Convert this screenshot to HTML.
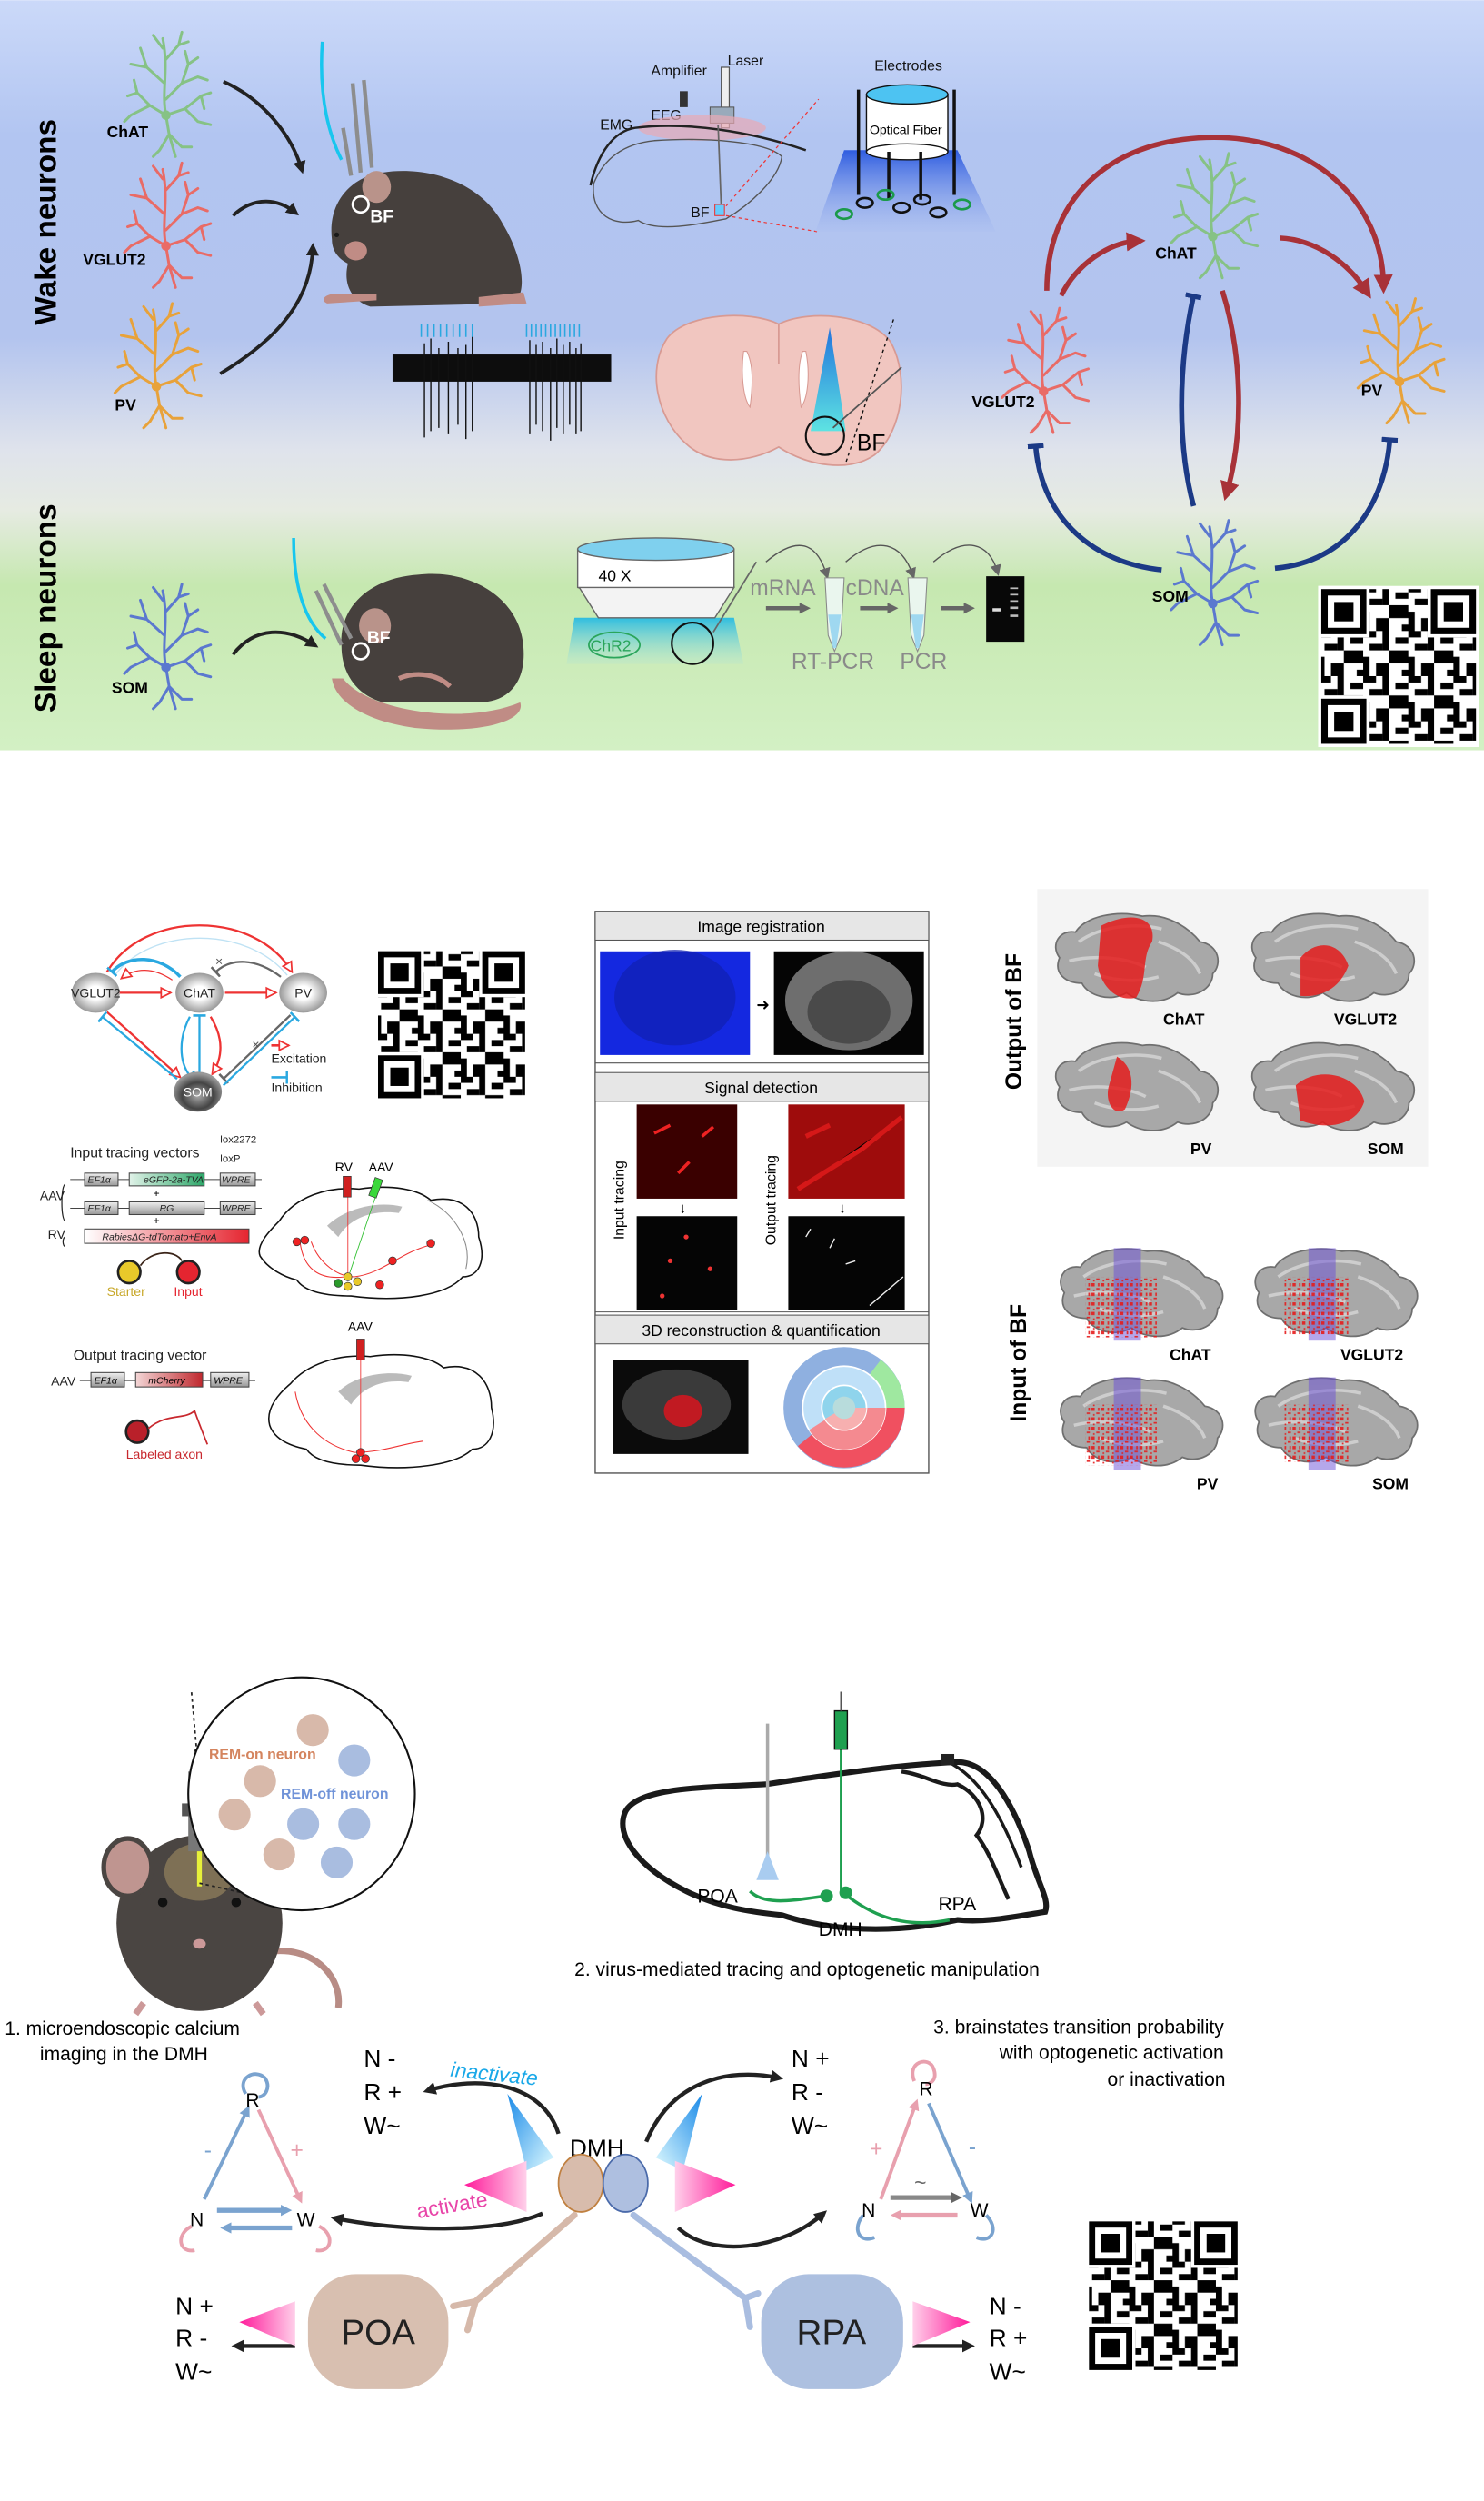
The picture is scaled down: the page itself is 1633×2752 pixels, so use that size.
<!DOCTYPE html>
<html><head><meta charset="utf-8">
<style>
html,body{margin:0;padding:0;background:#fff;}
svg{display:block;}
text{font-family:"Liberation Sans",Arial,sans-serif;}
</style></head>
<body>
<svg width="1633" height="2752" viewBox="0 0 930 1567" xmlns="http://www.w3.org/2000/svg">
<defs>
<linearGradient id="bg1" x1="0" y1="0" x2="0" y2="1">
<stop offset="0" stop-color="#cbd9f9"/><stop offset="0.18" stop-color="#b2c5f1"/>
<stop offset="0.45" stop-color="#b3c4ee"/><stop offset="0.6" stop-color="#dfe3ec"/>
<stop offset="0.68" stop-color="#e6ebe2"/><stop offset="0.78" stop-color="#c6e8b0"/>
<stop offset="1" stop-color="#d3f0c4"/></linearGradient>
<symbol id="nr" overflow="visible">
<g fill="none" stroke="currentColor" stroke-width="1.7" stroke-linecap="round" stroke-linejoin="round">
<path d="M0,0 C-3,-15 2,-28 -2,-48 M-1,-20 L-12,-30 L-16,-42 M-12,-30 L-22,-32 M0,-35 L8,-44 L10,-52 M8,-44 L14,-46 M-2,-42 L-8,-50 M0,-10 L10,-20 L14,-32 M10,-20 L20,-24 L26,-22 M14,-32 L12,-40 M14,-32 L20,-36 M0,0 L12,-4 L22,-12 L28,-14 M22,-12 L24,-4 M12,-4 L20,4 L28,6 M0,0 L-10,-6 L-18,-14 L-24,-12 M-18,-14 L-20,-22 M-10,-6 L-22,0 L-26,4 M0,0 L2,12 L-4,22 M2,12 L10,20 L16,20 M2,12 L6,26 M-4,22 L-8,26"/>
</g><circle r="3" fill="currentColor"/></symbol>
<pattern id="qp" width="7" height="7" patternUnits="userSpaceOnUse">
<rect width="7" height="7" fill="#fff"/><rect x="0" y="0" width="2" height="1"/><rect x="3" y="0" width="1" height="3"/><rect x="1" y="2" width="2" height="1"/><rect x="4" y="3" width="3" height="2"/><rect x="0" y="4" width="1" height="3"/><rect x="2" y="5" width="2" height="2"/><rect x="5" y="1" width="2" height="1"/><rect x="6" y="6" width="1" height="1"/>
</pattern>
<pattern id="spk" width="6" height="6" patternUnits="userSpaceOnUse">
<rect x="0" y="0" width="2" height="2" fill="#e41c1c"/><rect x="3" y="3" width="2" height="1" fill="#e41c1c"/><rect x="4" y="0" width="1" height="2" fill="#e41c1c"/><rect x="1" y="4" width="1" height="1" fill="#e41c1c"/>
</pattern>
<symbol id="qr" viewBox="0 0 25 25">
<rect width="25" height="25" fill="#fff"/><rect x="0.5" y="0.5" width="24" height="24" fill="url(#qp)"/>
<g><rect x="0" y="0" width="8" height="8" fill="#fff"/><rect x="0.5" y="0.5" width="7" height="7"/><rect x="1.5" y="1.5" width="5" height="5" fill="#fff"/><rect x="2.5" y="2.5" width="3" height="3"/></g>
<g transform="translate(17,0)"><rect width="8" height="8" fill="#fff"/><rect x="0.5" y="0.5" width="7" height="7"/><rect x="1.5" y="1.5" width="5" height="5" fill="#fff"/><rect x="2.5" y="2.5" width="3" height="3"/></g>
<g transform="translate(0,17)"><rect width="8" height="8" fill="#fff"/><rect x="0.5" y="0.5" width="7" height="7"/><rect x="1.5" y="1.5" width="5" height="5" fill="#fff"/><rect x="2.5" y="2.5" width="3" height="3"/></g>
</symbol>
<marker id="ak" markerWidth="8" markerHeight="8" refX="5" refY="4" orient="auto" markerUnits="userSpaceOnUse"><path d="M0,0 L8,4 L0,8 Z" fill="#222"/></marker>
<marker id="ar" markerWidth="12" markerHeight="12" refX="6" refY="6" orient="auto" markerUnits="userSpaceOnUse"><path d="M0,0 L12,6 L0,12 Z" fill="#a83238"/></marker>
<marker id="ag" markerWidth="7" markerHeight="7" refX="4" refY="3.5" orient="auto" markerUnits="userSpaceOnUse"><path d="M0,0 L7,3.5 L0,7 Z" fill="#666"/></marker>
<marker id="aro" markerWidth="8" markerHeight="8" refX="7" refY="4" orient="auto" markerUnits="userSpaceOnUse"><path d="M1,1 L7,4 L1,7 Z" fill="#fff" stroke="#e33" stroke-width="1"/></marker>
<marker id="tb" markerWidth="4" markerHeight="10" refX="2" refY="5" orient="auto" markerUnits="userSpaceOnUse"><rect x="0" y="0" width="3" height="10" fill="#1c3a86"/></marker>
<marker id="tl" markerWidth="3" markerHeight="8" refX="1" refY="4" orient="auto" markerUnits="userSpaceOnUse"><rect x="0" y="0" width="1.5" height="8" fill="#2aa8e0"/></marker>
<marker id="tg" markerWidth="3" markerHeight="8" refX="1" refY="4" orient="auto" markerUnits="userSpaceOnUse"><rect x="0" y="0" width="1.5" height="8" fill="#666"/></marker>
<marker id="ab" markerWidth="7" markerHeight="7" refX="4" refY="3.5" orient="auto" markerUnits="userSpaceOnUse"><path d="M0,0 L7,3.5 L0,7 Z" fill="#7aa3cf"/></marker>
<marker id="ap" markerWidth="7" markerHeight="7" refX="4" refY="3.5" orient="auto" markerUnits="userSpaceOnUse"><path d="M0,0 L7,3.5 L0,7 Z" fill="#e8a0ae"/></marker>
<radialGradient id="sph" cx="0.5" cy="0.5" r="0.55"><stop offset="0.3" stop-color="#fff"/><stop offset="1" stop-color="#8a8a8a"/></radialGradient>
<radialGradient id="sphd" cx="0.5" cy="0.6" r="0.55"><stop offset="0" stop-color="#aaa"/><stop offset="0.6" stop-color="#444"/><stop offset="1" stop-color="#999"/></radialGradient>
<linearGradient id="cone" x1="0" y1="0" x2="0" y2="1"><stop offset="0" stop-color="#2f5de0"/><stop offset="1" stop-color="#a9bdf0" stop-opacity="0.3"/></linearGradient>
<linearGradient id="cyc" x1="0" y1="0" x2="0" y2="1"><stop offset="0" stop-color="#0b6be0"/><stop offset="1" stop-color="#4de6e6"/></linearGradient>
<linearGradient id="mic" x1="0" y1="0" x2="0" y2="1"><stop offset="0" stop-color="#2fbde0"/><stop offset="1" stop-color="#b7e6d0" stop-opacity="0.3"/></linearGradient>
<linearGradient id="mgl" x1="0" y1="0" x2="1" y2="0"><stop offset="0" stop-color="#ff1a9a"/><stop offset="1" stop-color="#ffd0ea"/></linearGradient>
<linearGradient id="mgr" x1="1" y1="0" x2="0" y2="0"><stop offset="0" stop-color="#ff1a9a"/><stop offset="1" stop-color="#ffd0ea"/></linearGradient>
<linearGradient id="cy1" x1="0" y1="0" x2="1" y2="1"><stop offset="0" stop-color="#1a8ae8"/><stop offset="1" stop-color="#e0fbff"/></linearGradient>
<linearGradient id="cy2" x1="1" y1="0" x2="0" y2="1"><stop offset="0" stop-color="#1a8ae8"/><stop offset="1" stop-color="#e0fbff"/></linearGradient>
<linearGradient id="rv" x1="0" y1="0" x2="1" y2="0"><stop offset="0" stop-color="#fff"/><stop offset="1" stop-color="#e52530"/></linearGradient>
<linearGradient id="gf" x1="0" y1="0" x2="1" y2="0"><stop offset="0" stop-color="#e0f2e8"/><stop offset="1" stop-color="#2ea86a"/></linearGradient>
<linearGradient id="gr" x1="0" y1="0" x2="0" y2="1"><stop offset="0" stop-color="#eee"/><stop offset="1" stop-color="#999"/></linearGradient>
<linearGradient id="mc" x1="0" y1="0" x2="1" y2="0"><stop offset="0" stop-color="#f3d6d6"/><stop offset="1" stop-color="#c0282e"/></linearGradient>
<symbol id="brain3d" viewBox="0 0 110 62" overflow="visible">
<path d="M8,30 C2,22 8,12 18,14 C24,4 44,0 60,4 C74,2 88,10 96,20 C108,22 110,34 104,40 C104,50 92,56 82,52 C72,60 58,58 50,52 C40,58 26,54 22,46 C12,46 4,40 8,30 Z" fill="#a8a8a8" stroke="#6f6f6f" stroke-width="1"/>
<path d="M20,20 C34,10 56,8 72,12 M14,32 C30,28 50,30 62,36 M70,20 C82,24 92,30 96,40 M30,40 C40,44 56,46 70,42" stroke="#d6d6d6" fill="none" stroke-width="2" opacity="0.8"/>
</symbol>
</defs>

<!-- ================= PANEL 1 ================= -->
<rect x="0" y="0" width="930" height="470" fill="url(#bg1)"/>
<text transform="translate(35,139) rotate(-90)" text-anchor="middle" font-size="19" font-weight="bold">Wake neurons</text>
<text transform="translate(35,381) rotate(-90)" text-anchor="middle" font-size="19" font-weight="bold">Sleep neurons</text>

<use href="#nr" x="104" y="72" color="#86c285"/>
<use href="#nr" x="104" y="154" color="#e96b66"/>
<use href="#nr" x="98" y="242" color="#e8a23a"/>
<use href="#nr" x="104" y="418" color="#5b78cf"/>
<g font-size="10" font-weight="bold">
<text x="67" y="86">ChAT</text><text x="52" y="166">VGLUT2</text><text x="72" y="257">PV</text><text x="70" y="434">SOM</text></g>
<g fill="none" stroke="#222" stroke-width="2.2">
<path d="M140,51 C165,62 183,85 189,106" marker-end="url(#ak)"/>
<path d="M146,135 C160,122 175,125 185,133" marker-end="url(#ak)"/>
<path d="M138,234 C178,210 195,185 196,155" marker-end="url(#ak)"/>
<path d="M146,410 C160,392 180,393 197,404" marker-end="url(#ak)"/>
</g>

<!-- wake mouse -->
<g>
<path d="M208,150 C205,125 222,110 240,108 C265,104 300,112 315,140 C330,165 330,188 320,190 L232,192 C220,188 215,178 218,165 C212,162 208,157 208,150 Z" fill="#46403d"/>
<path d="M236,188 L205,190 C200,188 204,184 210,184 L236,184 Z" fill="#c08c85"/>
<path d="M300,186 L328,183 L330,190 L300,192 Z" fill="#c08c85"/>
<ellipse cx="236" cy="117" rx="9" ry="10" fill="#b9938a"/>
<ellipse cx="223" cy="157" rx="7" ry="6" fill="#c08c85"/>
<circle cx="211" cy="147" r="1.5" fill="#1a1a1a"/>
<path d="M202,26 C200,55 204,80 214,100" stroke="#18c6ee" stroke-width="2" fill="none"/>
<path d="M221,52 L226,108 M228,50 L233,105 M215,80 L220,110" stroke="#8d8d8d" stroke-width="2.5" fill="none"/>
<circle cx="226" cy="128" r="5" fill="none" stroke="#fff" stroke-width="1.5"/>
<text x="232" y="139" font-size="11" fill="#fff" font-weight="bold">BF</text>
</g>

<!-- EEG setup -->
<g font-size="9" fill="#111">
<text x="408" y="47">Amplifier</text><text x="456" y="41">Laser</text><text x="408" y="75">EEG</text><text x="376" y="81">EMG</text><text x="433" y="136">BF</text><text x="548" y="44">Electrodes</text>
</g>
<rect x="452" y="42" width="5" height="38" fill="#eee" stroke="#555" stroke-width="0.7"/>
<rect x="426" y="57" width="5" height="10" fill="#333"/>
<rect x="445" y="67" width="15" height="10" fill="#9ab" stroke="#555" stroke-width="0.6"/>
<ellipse cx="440" cy="80" rx="40" ry="8" fill="#e8a9b5" opacity="0.7"/>
<path d="M370,116 C375,95 385,82 398,80 C430,76 470,82 505,94" stroke="#222" stroke-width="1.4" fill="none"/>
<path d="M372,115 C370,135 385,142 400,138 C412,146 440,140 455,137 C470,128 488,112 490,98 C480,88 440,86 410,88 C390,90 378,100 372,115 Z" fill="none" stroke="#555" stroke-width="0.8"/>
<line x1="450" y1="78" x2="452" y2="130" stroke="#666" stroke-width="1"/>
<rect x="448" y="128" width="6" height="7" fill="#6cf" stroke="#e33" stroke-width="0.6"/>
<path d="M455,129 L513,62 M455,135 L512,145" stroke="#e33" stroke-width="0.7" stroke-dasharray="2,2"/>
<path d="M529,94 L600,94 L624,145 L511,145 Z" fill="url(#cone)"/>
<rect x="543" y="59" width="51" height="36" fill="#fff" stroke="#111" stroke-width="0.8"/>
<ellipse cx="568.5" cy="59" rx="25.5" ry="6" fill="#4dc3f2" stroke="#111" stroke-width="0.8"/>
<ellipse cx="568.5" cy="95" rx="25.5" ry="5" fill="#fff" stroke="#111" stroke-width="0.8"/>
<text x="545" y="84" font-size="8">Optical Fiber</text>
<path d="M538,56 L538,122 M557,95 L557,125 M577,95 L577,125 M598,56 L598,122" stroke="#111" stroke-width="2"/>
<g fill="none" stroke-width="1.5">
<ellipse cx="542" cy="127" rx="5" ry="3" stroke="#111"/><ellipse cx="555" cy="122" rx="5" ry="3" stroke="#1b9a4a"/><ellipse cx="565" cy="130" rx="5" ry="3" stroke="#111"/><ellipse cx="578" cy="125" rx="5" ry="3" stroke="#111"/><ellipse cx="588" cy="133" rx="5" ry="3" stroke="#111"/><ellipse cx="603" cy="128" rx="5" ry="3" stroke="#1b9a4a"/><ellipse cx="529" cy="134" rx="5" ry="3" stroke="#1b9a4a"/>
</g>

<!-- spikes -->
<rect x="246" y="222" width="137" height="17" fill="#0d0d0d"/>
<g stroke="#111" stroke-width="0.8">
<path d="M266,215 V274 M270,212 V270 M275,218 V268 M281,214 V272 M287,218 V266 M292,216 V275 M296,210 V270 M332,213 V272 M336,216 V266 M340,214 V270 M345,218 V276 M349,212 V268 M353,216 V272 M357,214 V266 M361,218 V272 M364,215 V270"/>
</g>
<g stroke="#2aa8e0" stroke-width="0.9">
<path d="M264,203 V211 M268,203 V211 M272,203 V211 M276,203 V211 M280,203 V211 M284,203 V211 M288,203 V211 M292,203 V211 M296,203 V211 M330,203 V211 M333,203 V211 M336,203 V211 M339,203 V211 M342,203 V211 M345,203 V211 M348,203 V211 M351,203 V211 M354,203 V211 M357,203 V211 M360,203 V211 M363,203 V211"/>
</g>

<!-- brain slice -->
<path d="M488,203 C470,194 430,196 418,212 C405,232 412,262 430,278 C445,292 470,290 488,280 C506,292 532,296 548,285 C566,270 570,235 558,214 C545,196 505,194 488,203 Z" fill="#f1c6c0" stroke="#d89a93" stroke-width="1"/>
<path d="M488,203 L488,228" stroke="#d89a93" stroke-width="1"/>
<path d="M466,220 C464,235 466,250 470,255 C472,240 472,228 468,220 Z M505,220 C508,235 506,250 502,255 C500,240 500,228 503,220 Z" fill="#fff" stroke="#d89a93" stroke-width="0.6"/>
<path d="M520,205 L530,270 L508,270 Z" fill="url(#cyc)" opacity="0.9"/>
<circle cx="517" cy="273" r="12" fill="none" stroke="#111" stroke-width="1.2"/>
<path d="M560,200 L530,290" stroke="#111" stroke-width="0.8" stroke-dasharray="2,2"/>
<path d="M565,230 L522,268" stroke="#555" stroke-width="1"/>
<text x="537" y="282" font-size="14">BF</text>

<!-- right circuit -->
<use href="#nr" x="760" y="148" color="#86c285"/>
<use href="#nr" x="654" y="245" color="#e96b66"/>
<use href="#nr" x="877" y="239" color="#e8a23a"/>
<use href="#nr" x="760" y="378" color="#5b78cf"/>
<g font-size="10" font-weight="bold">
<text x="724" y="162">ChAT</text><text x="609" y="255">VGLUT2</text><text x="853" y="248">PV</text><text x="722" y="377">SOM</text></g>
<g fill="none" stroke="#a83238" stroke-width="3.2">
<path d="M656,182 C656,120 700,86 761,86 C822,86 866,125 867,178" marker-end="url(#ar)"/>
<path d="M665,185 C675,165 695,152 712,151" marker-end="url(#ar)"/>
<path d="M802,149 C825,150 845,165 856,182" marker-end="url(#ar)"/>
<path d="M766,182 C778,220 780,270 769,308" marker-end="url(#ar)"/>
</g>
<g fill="none" stroke="#1c3a86" stroke-width="3.2">
<path d="M748,317 C738,280 738,230 748,185" marker-end="url(#tb)"/>
<path d="M728,357 C680,352 652,320 649,279" marker-end="url(#tb)"/>
<path d="M799,356 C845,352 868,315 871,275" marker-end="url(#tb)"/>
</g>

<!-- sleep mouse -->
<g>
<path d="M214,405 C212,380 232,362 262,360 C295,356 326,375 328,405 C330,428 318,440 300,440 L240,440 C222,435 214,420 214,405 Z" fill="#46403d"/>
<ellipse cx="235" cy="392" rx="10" ry="11" fill="#b9938a"/>
<path d="M215,425 C230,445 290,455 326,440 C330,452 300,460 260,456 C230,452 210,440 208,425 Z" fill="#c08c85"/>
<path d="M250,425 C262,420 275,423 282,430" stroke="#c08c85" stroke-width="3" fill="none"/>
<path d="M184,337 C184,370 192,390 204,400" stroke="#18c6ee" stroke-width="2" fill="none"/>
<path d="M198,370 L214,404 M203,366 L220,400" stroke="#8d8d8d" stroke-width="2.5" fill="none"/>
<circle cx="226" cy="408" r="5" fill="none" stroke="#fff" stroke-width="1.5"/>
<text x="230" y="403" font-size="11" fill="#fff" font-weight="bold">BF</text>
</g>

<!-- microscope -->
<path d="M360,387 L460,387 L466,416 L355,416 Z" fill="url(#mic)"/>
<path d="M362,344 L460,344 L460,368 C445,372 375,372 362,368 Z" fill="#fff" stroke="#666" stroke-width="0.8"/>
<path d="M363,368 L460,368 L448,387 L375,387 Z" fill="#f3f3f3" stroke="#666" stroke-width="0.8"/>
<ellipse cx="411" cy="344" rx="49" ry="7" fill="#7fd0ee" stroke="#666" stroke-width="0.8"/>
<text x="375" y="364" font-size="10">40 X</text>
<ellipse cx="385" cy="404" rx="16" ry="8" fill="none" stroke="#2aa55a" stroke-width="1"/>
<text x="370" y="408" font-size="10" fill="#2aa55a">ChR2</text>
<circle cx="434" cy="403" r="13" fill="none" stroke="#111" stroke-width="1.2"/>
<path d="M447,396 L474,352" stroke="#666" stroke-width="1"/>
<g fill="none" stroke="#555" stroke-width="0.8">
<path d="M480,352 C500,335 512,340 518,360" marker-end="url(#ag)"/><path d="M530,352 C550,335 565,340 572,360" marker-end="url(#ag)"/><path d="M585,352 C605,335 620,340 625,358" marker-end="url(#ag)"/>
</g>
<g stroke="#666" stroke-width="2.5"><path d="M480,381 H505" marker-end="url(#ag)"/><path d="M539,381 H560" marker-end="url(#ag)"/><path d="M590,381 H608" marker-end="url(#ag)"/></g>
<path d="M517,362 L529,362 L527,398 L523,408 L519,398 Z" fill="#eaf6ee" stroke="#888" stroke-width="0.6"/>
<path d="M569,362 L581,362 L579,398 L575,408 L571,398 Z" fill="#eaf6ee" stroke="#888" stroke-width="0.6"/>
<path d="M519,385 L527,385 L524,406 L522,406 Z M571,385 L579,385 L576,406 L574,406 Z" fill="#9fd8f0"/>
<g font-size="14" fill="#8a8a8a"><text x="470" y="373">mRNA</text><text x="530" y="373">cDNA</text><text x="496" y="419">RT-PCR</text><text x="564" y="419">PCR</text></g>
<rect x="618" y="361" width="24" height="41" fill="#080808"/>
<rect x="622" y="381" width="5" height="2" fill="#ddd"/>
<g fill="#bbb"><rect x="633" y="368" width="5" height="1"/><rect x="633" y="372" width="5" height="1"/><rect x="633" y="376" width="5" height="1"/><rect x="633" y="380" width="5" height="1.5"/><rect x="633" y="385" width="5" height="1.5"/></g>

<use href="#qr" x="826" y="367" width="101" height="101"/>

<!-- ================= PANEL 2 ================= -->
<g fill="none" stroke-width="1.3">
<path d="M67,609 C90,570 160,570 183,609" stroke="#e33" marker-end="url(#aro)"/>
<path d="M72,611 C95,580 155,580 180,611" stroke="#bfe2f4" stroke-width="0.8"/>
<path d="M113,612 C100,598 80,598 70,609" stroke="#2aa8e0" stroke-width="2" marker-end="url(#tl)"/>
<path d="M108,614 C96,606 85,606 76,613" stroke="#e33" stroke-width="0.7" marker-end="url(#aro)"/>
<path d="M176,612 C160,600 145,600 135,609" stroke="#666" marker-end="url(#tg)"/>
<path d="M75,622 L107,622" stroke="#e33" marker-end="url(#aro)"/>
<path d="M141,622 L173,622" stroke="#e33" marker-end="url(#aro)"/>
<path d="M67,634 L113,675" stroke="#e33" marker-end="url(#aro)"/>
<path d="M111,676 L64,637" stroke="#2aa8e0" marker-end="url(#tl)"/>
<path d="M119,637 C112,650 112,665 119,674" stroke="#2aa8e0" marker-end="url(#tl)"/>
<path d="M125,675 L125,636" stroke="#2aa8e0" marker-end="url(#tl)"/>
<path d="M132,637 C140,650 140,662 133,673" stroke="#e33" marker-end="url(#aro)"/>
<path d="M182,636 L140,676" stroke="#666" marker-end="url(#tg)"/>
<path d="M140,680 L185,637" stroke="#2aa8e0" marker-end="url(#tl)"/>
<path d="M170,655 L181,655" stroke="#e33" stroke-width="1.5" marker-end="url(#aro)"/>
<path d="M170,675 L180,675" stroke="#2aa8e0" stroke-width="1.5" marker-end="url(#tl)"/>
</g>
<text x="158" y="657" font-size="8" fill="#555">×</text><text x="135" y="605" font-size="8" fill="#555">×</text>
<text x="64" y="636" font-size="11" fill="#2aa8e0" font-weight="bold">-</text>
<text x="176" y="631" font-size="12" fill="#e33" font-weight="bold">+</text>
<ellipse cx="60" cy="622" rx="15" ry="12.5" fill="url(#sph)"/>
<ellipse cx="125" cy="622" rx="15" ry="12.5" fill="url(#sph)"/>
<ellipse cx="190" cy="622" rx="15" ry="12.5" fill="url(#sph)"/>
<ellipse cx="124" cy="684" rx="15" ry="12.5" fill="url(#sphd)"/>
<g font-size="8" fill="#222"><text x="60" y="625" text-anchor="middle">VGLUT2</text><text x="125" y="625" text-anchor="middle">ChAT</text><text x="190" y="625" text-anchor="middle">PV</text><text x="124" y="687" text-anchor="middle" fill="#fff">SOM</text>
<text x="170" y="666">Excitation</text><text x="170" y="684">Inhibition</text></g>
<use href="#qr" x="235" y="594" width="96" height="96"/>

<!-- input vectors -->
<g font-size="9" fill="#222"><text x="44" y="725">Input tracing vectors</text><text x="25" y="752" font-size="8">AAV</text><text x="30" y="776" font-size="8">RV</text>
<text x="138" y="716" font-size="6.5">lox2272</text><text x="138" y="728" font-size="6.5">loxP</text></g>
<path d="M41,742 C38,742 38,765 41,765 M41,775 C39,775 39,781 41,781" stroke="#222" fill="none" stroke-width="0.7"/>
<g stroke="#444" stroke-width="0.6">
<line x1="44" y1="739" x2="164" y2="739"/><line x1="44" y1="757" x2="164" y2="757"/>
<rect x="53" y="735" width="21" height="8" fill="url(#gr)"/><rect x="81" y="735" width="47" height="8" fill="url(#gf)"/><rect x="138" y="735" width="22" height="8" fill="url(#gr)"/>
<rect x="53" y="753" width="21" height="8" fill="url(#gr)"/><rect x="81" y="753" width="47" height="8" fill="url(#gr)"/><rect x="138" y="753" width="22" height="8" fill="url(#gr)"/>
<rect x="53" y="770" width="103" height="9" fill="url(#rv)"/>
</g>
<g font-size="6" font-style="italic" fill="#222"><text x="55" y="741">EF1α</text><text x="139" y="741">WPRE</text><text x="55" y="759">EF1α</text><text x="139" y="759">WPRE</text><text x="90" y="741">eGFP-2a-TVA</text><text x="100" y="759">RG</text><text x="64" y="777">RabiesΔG-tdTomato+EnvA</text></g>
<text x="96" y="750" font-size="7">+</text><text x="96" y="767" font-size="7">+</text>
<circle cx="81" cy="797" r="7" fill="#e8c92a" stroke="#222" stroke-width="1.5"/>
<circle cx="118" cy="797" r="7" fill="#e52530" stroke="#222" stroke-width="1.5"/>
<path d="M88,793 C95,783 110,783 114,790" stroke="#3a2418" fill="none" stroke-width="1"/>
<g font-size="8"><text x="67" y="812" fill="#c8a82a">Starter</text><text x="109" y="812" fill="#e52530">Input</text></g>
<g fill="none" stroke="#111" stroke-width="0.9">
<path d="M163,787 C160,780 170,770 175,765 C185,750 205,743 225,745 C245,742 262,745 270,752 C290,748 300,760 300,775 C305,790 300,800 290,800 C280,812 250,816 220,812 C200,812 190,808 186,802 C178,800 168,795 163,787 Z"/>
<path d="M268,752 C285,760 296,778 292,795" stroke="#888" stroke-width="0.6"/>
</g>
<path d="M205,768 C215,758 235,752 252,756 L250,760 C235,758 220,762 212,775 Z" fill="#bbb"/>
<path d="M188,778 C190,795 200,802 216,800 M195,778 C200,792 212,800 222,800 M222,800 C240,798 250,785 270,780" stroke="#e33" fill="none" stroke-width="0.6"/>
<line x1="218" y1="740" x2="218" y2="800" stroke="#e33" stroke-width="0.5"/>
<line x1="238" y1="742" x2="219" y2="798" stroke="#2ec02e" stroke-width="0.5"/>
<rect x="215" y="737" width="5" height="13" fill="#d02020" stroke="#333" stroke-width="0.4"/>
<rect x="233" y="738" width="5" height="12" fill="#3bd83b" stroke="#333" stroke-width="0.4" transform="rotate(20 235 744)"/>
<g stroke="#333" stroke-width="0.4"><circle cx="186" cy="778" r="2.5" fill="#e22"/><circle cx="191" cy="777" r="2.5" fill="#e22"/><circle cx="270" cy="779" r="2.5" fill="#e22"/><circle cx="246" cy="790" r="2.5" fill="#e22"/><circle cx="238" cy="805" r="2.5" fill="#e22"/><circle cx="218" cy="800" r="2.5" fill="#e8c92a"/><circle cx="224" cy="803" r="2.5" fill="#e8c92a"/><circle cx="218" cy="806" r="2.5" fill="#e8c92a"/><circle cx="212" cy="804" r="2.5" fill="#2a9a2a"/></g>
<g font-size="8"><text x="210" y="734">RV</text><text x="231" y="734">AAV</text></g>

<!-- output vectors -->
<g font-size="9" fill="#222"><text x="46" y="852">Output tracing vector</text><text x="32" y="868" font-size="8">AAV</text></g>
<line x1="50" y1="865" x2="160" y2="865" stroke="#444" stroke-width="0.6"/>
<g stroke="#444" stroke-width="0.6"><rect x="57" y="860" width="21" height="9" fill="url(#gr)"/><rect x="85" y="860" width="42" height="9" fill="url(#mc)"/><rect x="132" y="860" width="24" height="9" fill="url(#gr)"/></g>
<g font-size="6" font-style="italic"><text x="59" y="867">EF1α</text><text x="93" y="867">mCherry</text><text x="134" y="867">WPRE</text></g>
<circle cx="86" cy="897" r="7" fill="#b9202a" stroke="#222" stroke-width="1.5"/>
<path d="M93,895 C105,885 115,890 122,884 C124,890 128,900 130,905" stroke="#c8282e" fill="none" stroke-width="1"/>
<text x="79" y="914" font-size="8" fill="#c8282e">Labeled axon</text>
<g fill="none" stroke="#111" stroke-width="0.9">
<path d="M169,893 C166,882 176,872 182,867 C192,855 212,848 232,850 C252,847 270,850 278,857 C298,853 308,866 308,882 C312,898 306,908 296,908 C286,918 256,922 226,918 C206,918 196,914 192,908 C182,906 172,902 169,893 Z"/>
</g>
<path d="M212,872 C222,862 242,858 258,862 L256,866 C242,864 228,868 220,880 Z" fill="#bbb"/>
<path d="M185,872 C188,890 200,905 222,910 M222,910 C240,910 250,905 265,903" stroke="#e33" fill="none" stroke-width="0.6"/>
<line x1="226" y1="842" x2="226" y2="910" stroke="#e33" stroke-width="0.5"/>
<rect x="223.5" y="839" width="5" height="13" fill="#d02020" stroke="#333" stroke-width="0.4"/>
<g stroke="#333" stroke-width="0.4" fill="#e22"><circle cx="226" cy="910" r="2.5"/><circle cx="223" cy="914" r="2.5"/><circle cx="229" cy="914" r="2.5"/></g>
<text x="218" y="834" font-size="8">AAV</text>

<!-- middle box -->
<rect x="373" y="571" width="209" height="352" fill="#fff" stroke="#555" stroke-width="0.8"/>
<rect x="373" y="571" width="209" height="18" fill="#e6e6e6" stroke="#555" stroke-width="0.6"/>
<text x="477" y="584" font-size="10" text-anchor="middle">Image registration</text>
<rect x="373" y="672" width="209" height="18" fill="#e6e6e6" stroke="#555" stroke-width="0.6"/>
<text x="477" y="685" font-size="10" text-anchor="middle">Signal detection</text>
<rect x="373" y="824" width="209" height="18" fill="#e6e6e6" stroke="#555" stroke-width="0.6"/>
<text x="477" y="837" font-size="10" text-anchor="middle">3D reconstruction &amp; quantification</text>
<line x1="373" y1="666" x2="582" y2="666" stroke="#555" stroke-width="0.6"/>
<line x1="373" y1="822" x2="582" y2="822" stroke="#555" stroke-width="0.6"/>
<rect x="376" y="596" width="94" height="65" fill="#1428e0"/>
<ellipse cx="423" cy="625" rx="38" ry="30" fill="#1020b0" opacity="0.7"/>
<rect x="485" y="596" width="94" height="65" fill="#050505"/>
<ellipse cx="532" cy="627" rx="40" ry="31" fill="#6e6e6e"/>
<ellipse cx="532" cy="634" rx="26" ry="20" fill="#4a4a4a"/>
<text x="474" y="633" font-size="10">➜</text>
<rect x="399" y="692" width="63" height="59" fill="#3a0000"/>
<path d="M410,710 L420,705 M425,735 L432,728 M440,712 L447,706" stroke="#e22" stroke-width="2"/>
<rect x="494" y="692" width="73" height="59" fill="#9e0c0c"/>
<path d="M500,745 L540,720 L565,700 M505,712 L520,705" stroke="#d51818" stroke-width="3"/>
<rect x="399" y="762" width="63" height="59" fill="#050505"/>
<g fill="#e33"><circle cx="420" cy="790" r="1.5"/><circle cx="430" cy="775" r="1.5"/><circle cx="445" cy="795" r="1.5"/><circle cx="415" cy="812" r="1.5"/></g>
<rect x="494" y="762" width="73" height="59" fill="#050505"/>
<path d="M505,775 L508,770 M520,782 L523,776 M530,792 L536,790 M545,818 L566,800" stroke="#eee" stroke-width="0.8"/>
<text x="428" y="760" font-size="9" text-anchor="middle">↓</text><text x="528" y="760" font-size="9" text-anchor="middle">↓</text>
<text transform="translate(391,752) rotate(-90)" font-size="9" text-anchor="middle">Input tracing</text>
<text transform="translate(486,752) rotate(-90)" font-size="9" text-anchor="middle">Output tracing</text>
<rect x="384" y="852" width="85" height="59" fill="#0b0b0b"/>
<ellipse cx="424" cy="880" rx="34" ry="22" fill="#3a3a3a"/>
<ellipse cx="428" cy="884" rx="12" ry="10" fill="#c11a22"/>
<circle cx="529" cy="882" r="38" fill="#8fb0e0"/>
<path d="M529,882 L567,882 A38,38 0 0 1 500,906 Z" fill="#f05060"/>
<path d="M529,882 L567,882 A38,38 0 0 0 552,852 Z" fill="#9fe8a0"/>
<circle cx="529" cy="882" r="26" fill="#bfe0f8" stroke="#fff" stroke-width="1"/>
<path d="M529,882 L555,882 A26,26 0 0 1 507,896 Z" fill="#f48a90"/>
<circle cx="529" cy="882" r="14" fill="#8fd4ec" stroke="#fff" stroke-width="1"/>
<path d="M529,882 L543,882 A14,14 0 0 1 517,889 Z" fill="#f7b0b0"/>
<circle cx="529" cy="882" r="7" fill="#b8dcdc"/>

<!-- right brains -->
<rect x="650" y="557" width="245" height="174" fill="#f4f4f4"/>
<text transform="translate(640,640) rotate(-90)" font-size="14" font-weight="bold" text-anchor="middle">Output of BF</text>
<text transform="translate(643,854) rotate(-90)" font-size="14" font-weight="bold" text-anchor="middle">Input of BF</text>
<use href="#brain3d" x="656" y="570" width="110" height="62"/>
<use href="#brain3d" x="779" y="570" width="110" height="62"/>
<use href="#brain3d" x="656" y="651" width="110" height="62"/>
<use href="#brain3d" x="779" y="651" width="110" height="62"/>
<g fill="#e41c1c" opacity="0.85">
<path d="M690,580 C710,570 725,575 722,590 C715,600 720,612 712,625 C700,628 690,618 688,605 Z"/>
<path d="M815,600 C825,588 840,590 845,605 C840,618 830,625 815,624 Z"/>
<path d="M700,662 C710,668 712,680 705,695 C698,700 692,690 695,680 Z"/>
<path d="M812,680 C825,668 850,672 855,690 C850,706 830,708 815,702 Z"/>
</g>
<use href="#brain3d" x="659" y="780" width="110" height="62"/>
<use href="#brain3d" x="781" y="780" width="110" height="62"/>
<use href="#brain3d" x="659" y="861" width="110" height="62"/>
<use href="#brain3d" x="781" y="861" width="110" height="62"/>
<g fill="#6b4fd8" opacity="0.5"><rect x="698" y="782" width="17" height="58"/><rect x="820" y="782" width="17" height="58"/><rect x="698" y="863" width="17" height="58"/><rect x="820" y="863" width="17" height="58"/></g>
<g fill="url(#spk)" opacity="0.9"><rect x="680" y="800" width="45" height="38"/><rect x="805" y="800" width="40" height="36"/><rect x="680" y="880" width="45" height="38"/><rect x="805" y="880" width="40" height="36"/></g>
<g font-size="10" font-weight="bold"><text x="729" y="642">ChAT</text><text x="836" y="642">VGLUT2</text><text x="746" y="723">PV</text><text x="857" y="723">SOM</text>
<text x="733" y="852">ChAT</text><text x="840" y="852">VGLUT2</text><text x="750" y="933">PV</text><text x="860" y="933">SOM</text></g>

<!-- ================= PANEL 3 ================= -->
<path d="M160,1225 C190,1215 215,1235 212,1258" stroke="#b88c85" stroke-width="4" fill="none"/>
<ellipse cx="125" cy="1205" rx="52" ry="55" fill="#4a4542"/>
<ellipse cx="80" cy="1170" rx="15" ry="18" fill="#bf9590" stroke="#4a4542" stroke-width="3"/>
<ellipse cx="170" cy="1170" rx="15" ry="18" fill="#bf9590" stroke="#4a4542" stroke-width="3"/>
<ellipse cx="125" cy="1173" rx="22" ry="18" fill="#8b7a5a" opacity="0.8"/>
<circle cx="102" cy="1192" r="3" fill="#111"/><circle cx="148" cy="1192" r="3" fill="#111"/>
<ellipse cx="125" cy="1218" rx="4" ry="3" fill="#c99"/>
<path d="M90,1255 L85,1262 M160,1255 L165,1262" stroke="#c99" stroke-width="4"/>
<rect x="118" y="1110" width="14" height="50" fill="#777"/>
<rect x="114" y="1130" width="22" height="8" fill="#555"/>
<line x1="125" y1="1160" x2="125" y2="1182" stroke="#e7f03a" stroke-width="3"/>
<path d="M125,1110 L122,1095 M128,1150 L120,1060 M125,1180 L170,1190" stroke="#222" stroke-width="1" stroke-dasharray="2,2" fill="none"/>
<ellipse cx="189" cy="1124" rx="71" ry="73" fill="#fff" stroke="#111" stroke-width="1.2"/>
<g fill="#d8b9aa"><circle cx="196" cy="1084" r="10"/><circle cx="163" cy="1116" r="10"/><circle cx="147" cy="1137" r="10"/><circle cx="175" cy="1162" r="10"/></g>
<g fill="#a9bde0"><circle cx="222" cy="1103" r="10"/><circle cx="190" cy="1143" r="10"/><circle cx="222" cy="1143" r="10"/><circle cx="211" cy="1167" r="10"/></g>
<text x="131" y="1102" font-size="9" fill="#d4845e" font-weight="bold">REM-on neuron</text>
<text x="176" y="1127" font-size="9" fill="#7093d8" font-weight="bold">REM-off neuron</text>

<path d="M430,1185 C400,1170 385,1150 392,1135 C400,1120 440,1120 480,1118 C520,1112 560,1106 600,1104 C620,1104 635,1130 645,1160 C650,1180 658,1190 655,1198 C640,1200 620,1205 600,1203 C560,1212 520,1210 490,1200 C470,1198 450,1195 430,1185 Z" fill="none" stroke="#1a1a1a" stroke-width="3.5"/>
<path d="M565,1110 C580,1112 590,1120 600,1118 C615,1125 620,1140 612,1150 C620,1160 625,1175 632,1190" stroke="#1a1a1a" stroke-width="2.5" fill="none"/>
<path d="M590,1102 C610,1110 625,1130 640,1170" stroke="#1a1a1a" stroke-width="2" fill="none"/>
<rect x="590" y="1099" width="8" height="7" fill="#222"/>
<line x1="481" y1="1080" x2="481" y2="1168" stroke="#aaa" stroke-width="2"/>
<path d="M481,1160 L474,1178 L488,1178 Z" fill="#a9ccf0"/>
<line x1="527" y1="1090" x2="527" y2="1185" stroke="#1fa050" stroke-width="1.5"/>
<rect x="523" y="1072" width="8" height="24" fill="#1fa050" stroke="#111" stroke-width="0.8"/>
<line x1="527" y1="1060" x2="527" y2="1072" stroke="#555" stroke-width="1"/>
<path d="M470,1185 C480,1195 500,1190 518,1188 M527,1185 C540,1195 560,1210 595,1203" stroke="#1fa050" stroke-width="2" fill="none"/>
<circle cx="518" cy="1188" r="4" fill="#1fa050"/><circle cx="530" cy="1186" r="4" fill="#1fa050"/>
<g font-size="12"><text x="437" y="1192">POA</text><text x="588" y="1197">RPA</text><text x="513" y="1213">DMH</text></g>
<text x="360" y="1238" font-size="12">2. virus-mediated tracing and optogenetic manipulation</text>
<g font-size="12"><text x="3" y="1275">1. microendoscopic calcium</text><text x="25" y="1291">imaging in the DMH</text>
<text x="767" y="1274" text-anchor="end">3. brainstates transition probability</text><text x="767" y="1290" text-anchor="end">with optogenetic activation</text><text x="768" y="1307" text-anchor="end">or inactivation</text></g>

<g fill="none" stroke-width="2.2">
<path d="M128,1378 L155,1322" stroke="#7aa3cf" marker-end="url(#ab)"/>
<path d="M162,1322 L188,1378" stroke="#e8a0ae" marker-end="url(#ap)"/>
<path d="M136,1385 L180,1385" stroke="#7aa3cf" stroke-width="3" marker-end="url(#ab)"/>
<path d="M183,1396 L141,1396" stroke="#7aa3cf" stroke-width="3" marker-end="url(#ab)"/>
<path d="M154,1312 C148,1302 160,1296 166,1302 C170,1308 166,1314 162,1314" stroke="#7aa3cf"/>
<path d="M120,1395 C110,1400 112,1412 122,1410" stroke="#e8a0ae"/>
<path d="M200,1395 C210,1400 208,1412 198,1410" stroke="#e8a0ae"/>
</g>
<g font-size="12"><text x="154" y="1320">R</text><text x="119" y="1395">N</text><text x="186" y="1395">W</text></g>
<text x="128" y="1352" font-size="14" fill="#7aa3cf">-</text><text x="182" y="1352" font-size="14" fill="#e8a0ae">+</text>
<g fill="none" stroke-width="2.2">
<path d="M552,1378 L574,1318" stroke="#e8a0ae" marker-end="url(#ap)"/>
<path d="M582,1318 L608,1378" stroke="#7aa3cf" marker-end="url(#ab)"/>
<path d="M558,1377 L600,1377" stroke="#888" stroke-width="3" marker-end="url(#ag)"/>
<path d="M600,1388 L561,1388" stroke="#e8a0ae" stroke-width="3" marker-end="url(#ap)"/>
<path d="M573,1304 C568,1292 582,1288 585,1296 C588,1304 582,1306 580,1306" stroke="#e8a0ae"/>
<path d="M541,1388 C534,1396 538,1406 548,1402" stroke="#7aa3cf"/>
<path d="M618,1388 C626,1396 622,1406 612,1402" stroke="#7aa3cf"/>
</g>
<g font-size="12"><text x="576" y="1313">R</text><text x="540" y="1389">N</text><text x="608" y="1389">W</text></g>
<text x="545" y="1351" font-size="14" fill="#e8a0ae">+</text><text x="607" y="1350" font-size="14" fill="#7aa3cf">-</text><text x="573" y="1372" font-size="13" fill="#666">~</text>

<g font-size="15"><text x="228" y="1295">N -</text><text x="228" y="1316">R +</text><text x="228" y="1337">W~</text>
<text x="496" y="1295">N +</text><text x="496" y="1316">R -</text><text x="496" y="1337">W~</text>
<text x="110" y="1450">N +</text><text x="110" y="1470">R -</text><text x="110" y="1491">W~</text>
<text x="620" y="1450">N -</text><text x="620" y="1470">R +</text><text x="620" y="1491">W~</text></g>
<text x="282" y="1301" font-size="13" fill="#19a8e8" font-style="italic" transform="rotate(6 282 1301)">inactivate</text>
<text x="262" y="1390" font-size="13" fill="#e844a8" transform="rotate(-10 262 1390)">activate</text>
<text x="357" y="1351" font-size="15">DMH</text>
<g fill="none" stroke="#222" stroke-width="2.5">
<path d="M350,1337 C340,1305 300,1300 268,1310" marker-end="url(#ak)"/>
<path d="M340,1387 C310,1400 250,1398 210,1390" marker-end="url(#ak)"/>
<path d="M405,1342 C420,1305 455,1295 488,1302" marker-end="url(#ak)"/>
<path d="M425,1396 C445,1415 490,1410 516,1387" marker-end="url(#ak)"/>
<path d="M185,1470 H148" marker-end="url(#ak)"/>
<path d="M572,1470 H608" marker-end="url(#ak)"/>
</g>
<path d="M318,1312 L347,1352 L330,1360 Z" fill="url(#cy1)"/>
<path d="M440,1312 L411,1352 L428,1360 Z" fill="url(#cy2)"/>
<path d="M291,1369 L330,1354 L330,1386 Z" fill="url(#mgl)"/>
<path d="M461,1369 L423,1354 L423,1386 Z" fill="url(#mgr)"/>
<path d="M150,1455 L185,1442 L185,1470 Z" fill="url(#mgl)"/>
<path d="M608,1455 L572,1442 L572,1470 Z" fill="url(#mgr)"/>
<path d="M360,1388 L298,1442 L284,1445 M298,1442 L293,1460" stroke="#d6b9aa" stroke-width="4" fill="none" stroke-linecap="round"/>
<path d="M397,1388 L467,1440 L475,1437 M467,1440 L470,1458" stroke="#a9bde0" stroke-width="4" fill="none" stroke-linecap="round"/>
<ellipse cx="364" cy="1368" rx="14" ry="18" fill="#d8bcac" stroke="#c08040" stroke-width="1"/>
<ellipse cx="392" cy="1368" rx="14" ry="18" fill="#aebfe0" stroke="#4a6aaa" stroke-width="1"/>
<rect x="193" y="1425" width="88" height="72" rx="30" fill="#d8bfb0"/>
<rect x="477" y="1425" width="89" height="72" rx="30" fill="#adc0e0"/>
<text x="237" y="1469" font-size="22" text-anchor="middle" fill="#222">POA</text>
<text x="521" y="1469" font-size="22" text-anchor="middle" fill="#222">RPA</text>
<use href="#qr" x="680" y="1390" width="98" height="97"/>
</svg>
</body></html>
